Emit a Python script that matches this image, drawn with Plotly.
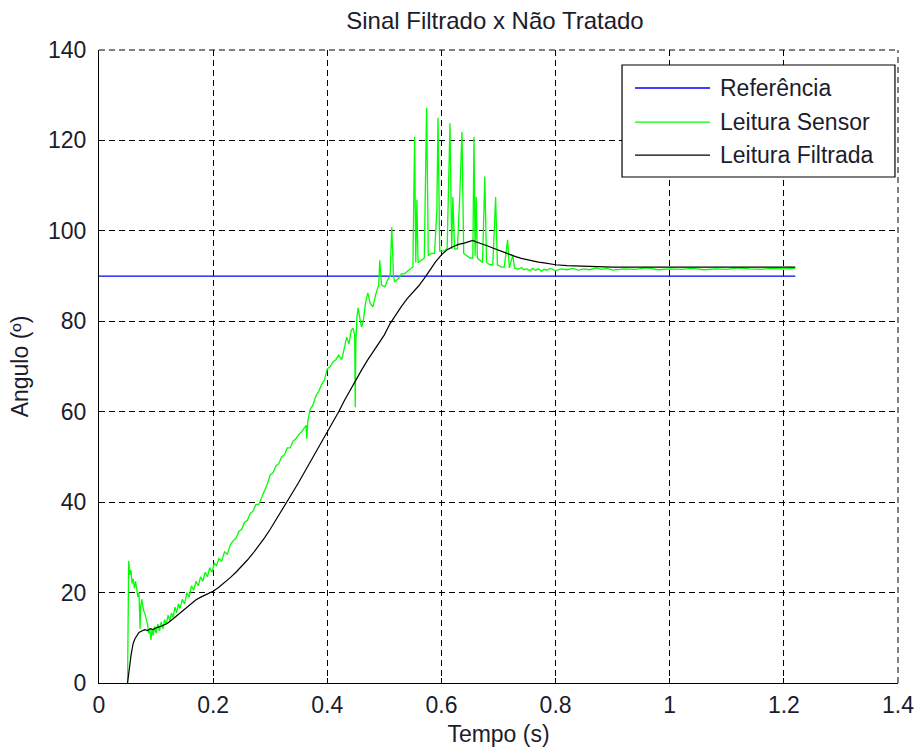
import plotly.graph_objects as go

# Reference (setpoint)
ref_t = [0.0, 1.22]
ref_y = [90, 90]

# Raw sensor reading (green)
sensor_t = [0.050, 0.051, 0.052, 0.054, 0.056, 0.058, 0.060, 0.062, 0.064, 0.066, 0.068, 0.070,
            0.071, 0.072, 0.073, 0.075, 0.078, 0.080, 0.083, 0.085, 0.087, 0.089, 0.091, 0.093,
            0.095, 0.097, 0.100, 0.103, 0.106, 0.109, 0.112, 0.115, 0.118, 0.121, 0.124, 0.127,
            0.130, 0.133, 0.136, 0.139, 0.142, 0.146, 0.150, 0.154, 0.158, 0.162, 0.166, 0.170,
            0.174, 0.178, 0.182, 0.186, 0.190, 0.194, 0.198, 0.202, 0.206, 0.210, 0.215, 0.220,
            0.225, 0.230, 0.235, 0.240, 0.245, 0.250, 0.255, 0.260, 0.265, 0.270, 0.275, 0.280,
            0.285, 0.290, 0.295, 0.300, 0.305, 0.310, 0.315, 0.320, 0.325, 0.330, 0.335, 0.340,
            0.345, 0.350, 0.355, 0.360, 0.363, 0.364, 0.366, 0.370, 0.375, 0.380, 0.385, 0.390,
            0.395, 0.400, 0.405, 0.410, 0.415, 0.420, 0.425, 0.428, 0.430, 0.434, 0.438, 0.442,
            0.445, 0.448, 0.449, 0.450, 0.452, 0.454, 0.458, 0.460, 0.463, 0.467, 0.471, 0.475,
            0.480, 0.485, 0.490, 0.492, 0.495, 0.501, 0.505, 0.510, 0.513, 0.516, 0.518, 0.525,
            0.530, 0.535, 0.540, 0.545, 0.550, 0.553, 0.555, 0.557, 0.559, 0.565, 0.570, 0.574,
            0.577, 0.582, 0.588, 0.592, 0.594, 0.597, 0.603, 0.610, 0.615, 0.618, 0.620, 0.623,
            0.628, 0.632, 0.636, 0.639, 0.645, 0.650, 0.655, 0.657, 0.659, 0.661, 0.663, 0.668,
            0.672, 0.676, 0.679, 0.685, 0.690, 0.695, 0.698, 0.705, 0.710, 0.716, 0.719, 0.725,
            0.728, 0.735, 0.740, 0.745, 0.750, 0.755, 0.760, 0.765, 0.770, 0.775, 0.780, 0.785,
            0.790, 0.800, 0.810, 0.820, 0.830, 0.840, 0.850, 0.860, 0.870, 0.880, 0.890, 0.900,
            0.920, 0.940, 0.960, 0.980, 1.000, 1.020, 1.040, 1.060, 1.080, 1.100, 1.120, 1.140,
            1.160, 1.180, 1.200, 1.220]
sensor_y = [0, 15, 27, 24, 25, 22, 23, 21, 22.5, 21, 19, 20,
            13, 12, 17, 18.5, 16, 15.5, 14, 13, 11, 12, 9.5, 12,
            10.5, 12.5, 11, 13, 11.5, 13.5, 12, 14, 13, 15, 13.8, 15.5,
            14.5, 16.8, 15.5, 17.5, 16.5, 18.5, 17.5, 20, 19, 21.5, 20.5, 22.5,
            21.5, 23.5, 22.5, 24.5, 23.5, 25.5, 24.5, 26.5, 26, 27.5, 27, 29,
            28.5, 30.5, 31.5, 32, 33.5, 34, 35.5, 36, 37.5, 38, 39.5, 39.5,
            41, 42.5, 44, 46, 46.5, 48, 48.5, 50, 50.5, 52, 52, 53.5,
            54, 55, 55.5, 56.5, 57, 54, 58, 60.5, 61.5, 63.5, 64.5, 66,
            67, 69.5, 70, 71, 71.5, 72.5, 71.5, 73, 74, 76.5, 75, 78,
            78.5, 77, 61, 75, 81, 83, 80, 78.7, 80, 84, 86.3, 84,
            83.2, 86, 88, 93.5, 88, 87.6, 89, 90, 100.8, 90, 88.7, 89.5,
            90.5, 90.5, 91, 91.5, 92, 120.8, 93, 106.8, 93, 93.5, 94, 127.2,
            94.5, 95, 95, 104.6, 125, 95.5, 95.5, 96, 123.8, 96, 107.5, 96,
            96, 107.5, 121.9, 95, 94.5, 94, 94, 120.8, 94.5, 107.5, 94, 93.5,
            93, 112, 93, 92.5, 92.5, 107.5, 92.5, 92, 92, 98, 91.8, 94.7,
            91.8, 91.5, 91.9, 91.4, 91.6, 91.2, 91.7, 91.3, 91.6, 91.1, 91.5, 91.3,
            91.7, 91.2, 91.6, 91.4, 91.7, 91.3, 91.6, 91.4, 91.8, 91.5, 91.7, 91.3,
            91.6, 91.5, 91.8, 91.4, 91.6, 91.5, 91.7, 91.4, 91.6, 91.5, 91.8, 91.6,
            91.5, 91.7, 91.6, 91.7]

# Filtered reading (black)
filt_t = [0.050, 0.052, 0.054, 0.056, 0.058, 0.060, 0.063, 0.066, 0.070, 0.075, 0.080, 0.085,
          0.090, 0.095, 0.100, 0.110, 0.120, 0.130, 0.140, 0.150, 0.160, 0.170, 0.180, 0.190,
          0.200, 0.210, 0.220, 0.230, 0.240, 0.250, 0.260, 0.270, 0.280, 0.290, 0.300, 0.310,
          0.320, 0.330, 0.340, 0.350, 0.360, 0.370, 0.380, 0.390, 0.400, 0.410, 0.420, 0.430,
          0.440, 0.450, 0.460, 0.470, 0.480, 0.490, 0.500, 0.510, 0.520, 0.530, 0.540, 0.550,
          0.560, 0.570, 0.580, 0.590, 0.600, 0.610, 0.620, 0.630, 0.640, 0.650, 0.655, 0.660,
          0.670, 0.680, 0.690, 0.700, 0.710, 0.720, 0.730, 0.740, 0.750, 0.760, 0.770, 0.780,
          0.790, 0.800, 0.820, 0.840, 0.860, 0.900, 0.950, 1.000, 1.050, 1.100, 1.150, 1.200,
          1.220]
filt_y = [0, 2.5, 4.5, 6, 7.5, 8.8, 9.8, 10.5, 11.2, 11.5, 11.8, 11.6,
          12, 11.8, 12.2, 12.6, 13.2, 14.2, 15.3, 16.4, 17.5, 18.4, 19.1, 19.7,
          20.3, 21.2, 22.2, 23.3, 24.5, 25.8, 27.2, 28.7, 30.3, 32.1, 34.0, 36.0,
          38.1, 40.2, 42.3, 44.4, 46.6, 48.8, 51, 53.1, 55.3, 57.7, 60, 62.5,
          64.8, 67, 69.2, 71.3, 73.2, 75, 77, 79.5, 81.5, 83.3, 85, 86.4,
          87.8, 89.5, 91.5, 93.2, 94.7, 95.8, 96.5, 97, 97.3, 97.6, 97.9, 97.6,
          97.2, 96.7, 96.2, 95.7, 95.2, 94.7, 94.3, 93.9, 93.6, 93.3, 93.1, 92.9,
          92.7, 92.5, 92.3, 92.2, 92.1, 92.0, 92.0, 92.0, 92.0, 92.0, 91.9, 92.0,
          92.0]

x_ticks = [0, 0.2, 0.4, 0.6, 0.8, 1.0, 1.2, 1.4]
x_tick_labels = ["0", "0.2", "0.4", "0.6", "0.8", "1", "1.2", "1.4"]
y_ticks = [0, 20, 40, 60, 80, 100, 120, 140]

series_names = ["Referência", "Leitura Sensor", "Leitura Filtrada"]
series_colors = ["#0000ff", "#00ff00", "#000000"]

FONT = "Liberation Sans, Arial, sans-serif"
TXT = "#1c1c2c"
FS = 23

fig = go.Figure()
fig.add_trace(go.Scatter(x=ref_t, y=ref_y, mode="lines", name=series_names[0],
                         line=dict(color=series_colors[0], width=1.3)))
fig.add_trace(go.Scatter(x=sensor_t, y=sensor_y, mode="lines", name=series_names[1],
                         line=dict(color=series_colors[1], width=1.3)))
fig.add_trace(go.Scatter(x=filt_t, y=filt_y, mode="lines", name=series_names[2],
                         line=dict(color=series_colors[2], width=1.2)))

axis_common = dict(
    showgrid=True, gridcolor="#000000", gridwidth=1, griddash="6px,4px",
    showline=True, linecolor="#000000", linewidth=1, mirror=False,
    ticks="inside", ticklen=5, tickcolor="#000000", tickwidth=1,
    zeroline=False, automargin=False,
    tickfont=dict(family=FONT, size=FS, color=TXT),
)

# dashed grid lines at the top and right edges (plot box is open there)
fig.add_shape(type="line", xref="paper", yref="paper", x0=0, x1=1, y0=1, y1=1,
              line=dict(color="#000000", width=1, dash="6px,4px"), layer="below")
fig.add_shape(type="line", xref="paper", yref="paper", x0=1, x1=1, y0=0, y1=1,
              line=dict(color="#000000", width=1, dash="6px,4px"), layer="below")

# MATLAB-style legend box (drawn in paper coordinates)
leg_x0, leg_x1, leg_y0, leg_y1 = 0.6546, 0.9962, 0.7994, 0.9763
leg_rows = [0.940, 0.886, 0.834]
fig.add_shape(type="rect", xref="paper", yref="paper",
              x0=leg_x0, x1=leg_x1, y0=leg_y0, y1=leg_y1,
              line=dict(color="#000000", width=1.2), fillcolor="white", layer="above")
for name, color, ry in zip(series_names, series_colors, leg_rows):
    fig.add_shape(type="line", xref="paper", yref="paper",
                  x0=0.6708, x1=0.7647, y0=ry, y1=ry,
                  line=dict(color=color, width=1.3), layer="above")
    fig.add_annotation(xref="paper", yref="paper", x=0.7747, y=ry,
                       xanchor="left", yanchor="middle", showarrow=False,
                       text=name, font=dict(family=FONT, size=FS, color=TXT))

fig.update_layout(
    width=919, height=749,
    margin=dict(l=99, r=21, t=50, b=66, pad=0),
    paper_bgcolor="white", plot_bgcolor="white",
    font=dict(family=FONT, size=FS, color=TXT),
    showlegend=False,
    title=dict(text="Sinal Filtrado x Não Tratado", x=0.5386, xanchor="center",
               y=1 - 21 / 749, yanchor="middle", yref="container",
               font=dict(family=FONT, size=24, color=TXT)),
    xaxis=dict(range=[0, 1.4], tickvals=x_ticks, ticktext=x_tick_labels,
               ticklabelstandoff=1,
               title=dict(text="Tempo (s)", standoff=9,
                          font=dict(family=FONT, size=FS, color=TXT)),
               **axis_common),
    yaxis=dict(range=[0, 140], tickvals=y_ticks, ticklabelstandoff=7,
               title=dict(text="Angulo (º)", standoff=12,
                          font=dict(family=FONT, size=FS, color=TXT)),
               **axis_common),
)

fig.write_html("out.html")
